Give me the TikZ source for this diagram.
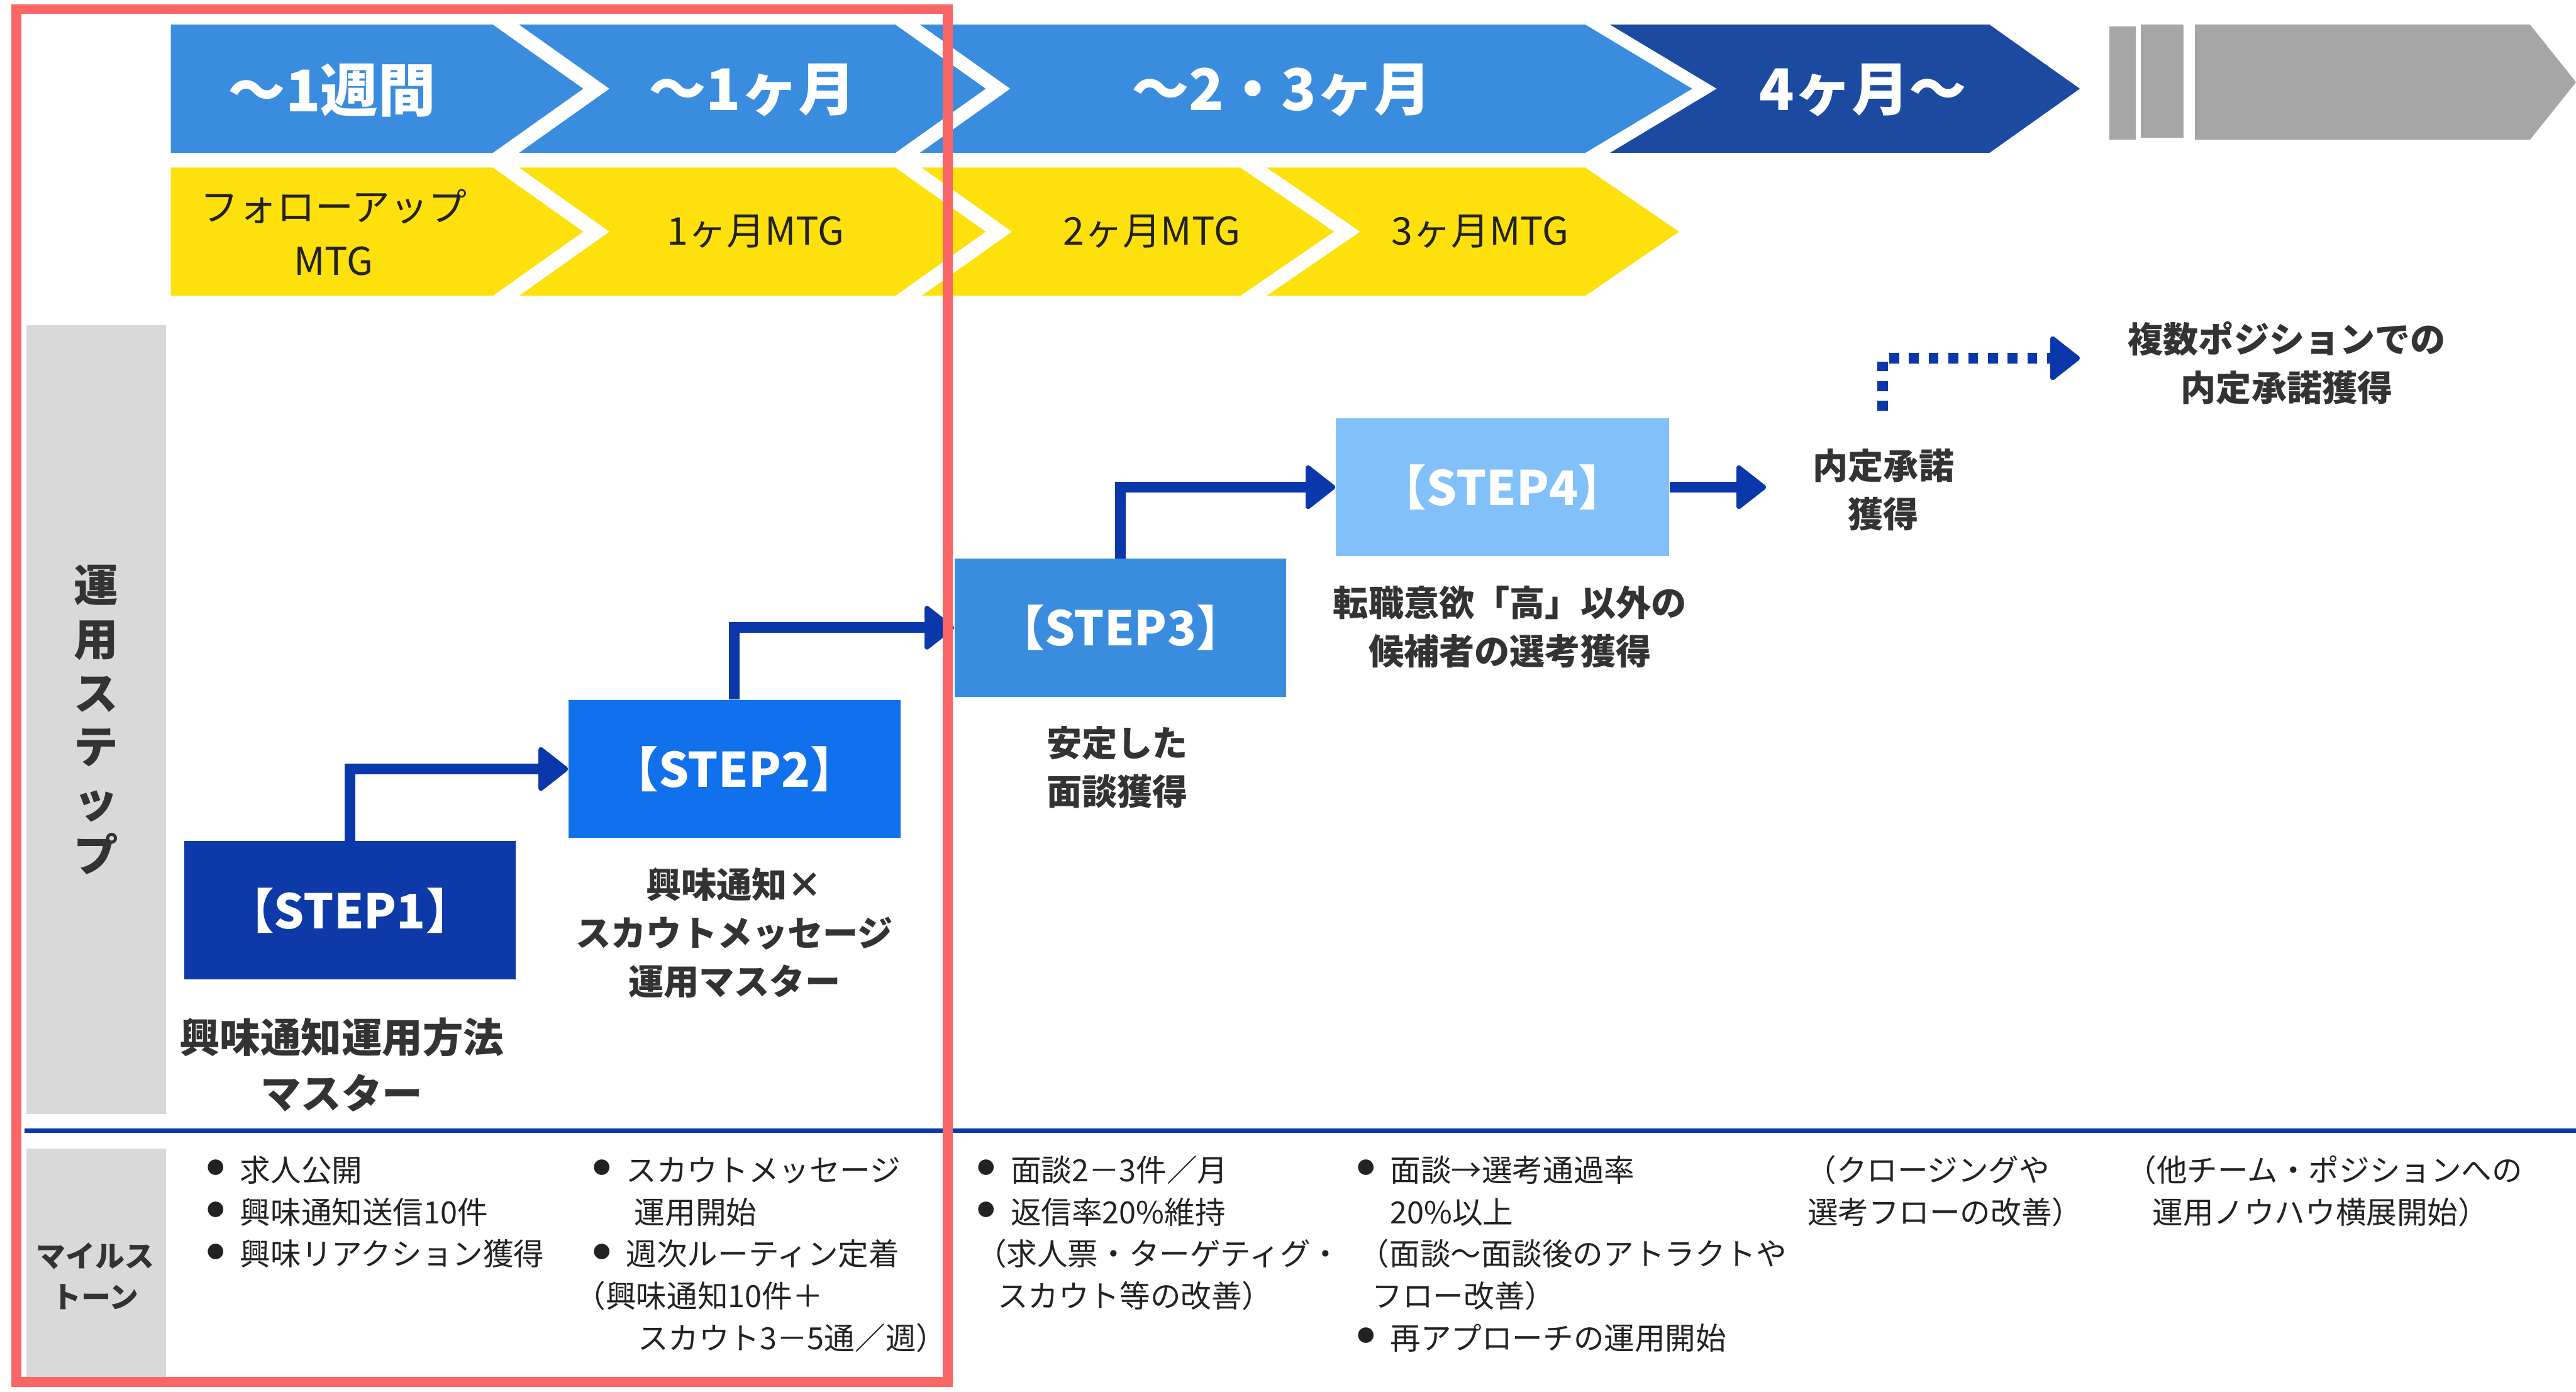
\documentclass[tikz,border=0pt]{standalone}
\usepackage{fontspec}
\setmainfont{Noto Sans CJK JP}
\usetikzlibrary{arrows.meta}
\definecolor{chev}{RGB}{58,141,222}
\definecolor{chevdark}{RGB}{27,74,160}
\definecolor{chevgray}{RGB}{166,166,166}
\definecolor{yel}{RGB}{254,224,12}
\definecolor{st1}{RGB}{13,58,168}
\definecolor{st2}{RGB}{17,112,235}
\definecolor{st3}{RGB}{58,141,222}
\definecolor{st4}{RGB}{130,192,250}
\definecolor{arr}{RGB}{10,55,170}
\definecolor{panel}{RGB}{217,217,217}
\definecolor{framecol}{RGB}{250,102,102}
\definecolor{txt}{RGB}{51,51,51}
\definecolor{mtxt}{RGB}{34,34,34}
\newcommand{\fsz}[2]{\fontsize{#1pt}{#2pt}\selectfont}
\newcommand{\bul}{\makebox[19pt][l]{\hspace{-1pt}\raisebox{4.5pt}{\fsz{10.5}{10.5}●}}}
\begin{document}
\begin{tikzpicture}[x=1pt,y=-1pt,
  chevtxt/.style={text=white,font=\bfseries\fsz{35}{40},inner sep=0},
  yeltxt/.style={text=mtxt,font=\fsz{23.3}{33},inner sep=0,align=center},
  stepbox/.style={inner sep=0,minimum width=202pt,minimum height=84pt,text=white,font=\bfseries\fsz{29}{32}},
  lbl/.style={text=txt,font=\bfseries\fsz{21.5}{29.5},align=center,inner sep=0},
  ms/.style={text=mtxt,font=\fsz{18.6}{25.6},anchor=base west,inner sep=0},
  conn/.style={draw=arr,line width=6.5pt,-{Triangle[length=19pt,width=29pt,line width=3pt,round]}},
  dotconn/.style={draw=arr,line width=6.5pt,dash pattern=on 6pt off 6pt,-{Triangle[length=19pt,width=29pt,line width=3pt,round]}}
]
\useasboundingbox (0,0) rectangle (1568,846.9);
\fill[white] (0,0) rectangle (1568,846.9);

% top blue chevrons
\fill[chev] (104,15) -- (300,15) -- (355,54) -- (300,93) -- (104,93) -- cycle;
\fill[chev] (316,15) -- (545,15) -- (600,54) -- (545,93) -- (316,93) -- (371,54) -- cycle;
\fill[chev] (560,15) -- (965,15) -- (1030,54) -- (965,93) -- (560,93) -- (615,54) -- cycle;
\fill[chevdark] (980,15) -- (1211,15) -- (1266,54) -- (1211,93) -- (980,93) -- (1045,54) -- cycle;
% gray continuation
\fill[chevgray] (1284,16) rectangle (1300,85);
\fill[chevgray] (1303,15) rectangle (1329,84);
\fill[chevgray] (1336,15) -- (1540,15) -- (1568,50) -- (1540,85) -- (1336,85) -- cycle;

% yellow chevrons
\fill[yel] (104,102) -- (300,102) -- (355,141) -- (300,180) -- (104,180) -- cycle;
\fill[yel] (316,102) -- (545,102) -- (600,141) -- (545,180) -- (316,180) -- (371,141) -- cycle;
\fill[yel] (561,102) -- (755,102) -- (812,141) -- (755,180) -- (561,180) -- (616,141) -- cycle;
\fill[yel] (771,102) -- (965,102) -- (1022,141) -- (965,180) -- (771,180) -- (828,141) -- cycle;

% side panels
\fill[panel] (16,198) rectangle (101,678);
\fill[panel] (16,699) rectangle (101,843);
\draw[draw=arr,line width=2.8pt] (15,688) -- (1568,688);

% chevron texts
\node[chevtxt] (t1) at (202,55) {～1週間};
\node[chevtxt] (t2) at (458,55) {～1ヶ月};
\node[chevtxt] (t3) at (780,55) {～2・3ヶ月};
\node[chevtxt] (t4) at (1134,55) {4ヶ月～};
\node[yeltxt] (y1) at (203,141.5) {フォローアップ\\MTG};
\node[yeltxt] (y2) at (460,141) {1ヶ月MTG};
\node[yeltxt] (y3) at (701,141) {2ヶ月MTG};
\node[yeltxt] (y4) at (901,141) {3ヶ月MTG};

% side labels
\node[text=txt,font=\bfseries\fsz{27}{32.8},align=center,inner sep=0] (vl) at (58.5,438) {運\\用\\ス\\テ\\ッ\\プ};
\node[text=txt,font=\bfseries\fsz{18}{25},align=center,inner sep=0] (ml) at (58,776.5) {マイルス\\トーン};

% steps
\node[stepbox,fill=st1] (s1) at (213,554) {【STEP1】};
\node[stepbox,fill=st2] (s2) at (447,468) {【STEP2】};
\node[stepbox,fill=st3] (s3) at (682,382) {【STEP3】};
\node[stepbox,fill=st4,minimum width=203pt] (s4) at (914.5,296.5) {【STEP4】};

% connectors
\draw[conn] (s1.north) |- (s2.west);
\draw[conn] (s2.north) |- (s3.west);
\draw[conn] (s3.north) |- (s4.west);
\coordinate (c5) at (1075,296.5);
\draw[conn] (s4.east) -- (c5);
\coordinate (d0) at (1146,250);
\coordinate (d1) at (1266,218);
\draw[dotconn] (d0) |- (d1);

% step labels
\node[lbl,font=\bfseries\fsz{24.7}{34}] (l1) at (208,648) {興味通知運用方法\\マスター};
\node[lbl] (l2) at (447,568) {興味通知×\\スカウトメッセージ\\運用マスター};
\node[lbl] (l3) at (680,467) {安定した\\面談獲得};
\node[lbl] (l4) at (919,381.5) {転職意欲「高」以外の\\候補者の選考獲得};
\node[lbl] (l5) at (1146.5,298) {内定承諾\\獲得};
\node[lbl] (l6) at (1392,221) {複数ポジションでの\\内定承諾獲得};

% milestones
\node[ms] (m1a) at (127,719) {\bul 求人公開};
\node[ms] (m1b) at (127,744.6) {\bul 興味通知送信10件};
\node[ms] (m1c) at (127,770.2) {\bul 興味リアクション獲得};
\node[ms] (m2a) at (362,719) {\bul スカウトメッセージ};
\node[ms] (m2b) at (386,744.6) {運用開始};
\node[ms] (m2c) at (362,770.2) {\bul 週次ルーティン定着};
\node[ms] (m2d) at (350,795.8) {（興味通知10件＋};
\node[ms] (m2e) at (388,821.4) {スカウト3－5通／週）};
\node[ms] (m3a) at (596,719) {\bul 面談2－3件／月};
\node[ms] (m3b) at (596,744.6) {\bul 返信率20\%維持};
\node[ms] (m3c) at (594,770.2) {（求人票・ターゲティグ・};
\node[ms] (m3d) at (607,795.8) {スカウト等の改善）};
\node[ms] (m4a) at (827,719) {\bul 面談→選考通過率};
\node[ms] (m4b) at (846,744.6) {20\%以上};
\node[ms] (m4c) at (827,770.2) {（面談～面談後のアトラクトや};
\node[ms] (m4d) at (835,795.8) {フロー改善）};
\node[ms] (m4e) at (827,821.4) {\bul 再アプローチの運用開始};
\node[ms] (m5a) at (1099,719) {（クロージングや};
\node[ms] (m5b) at (1100,744.6) {選考フローの改善）};
\node[ms] (m6a) at (1294,719) {（他チーム・ポジションへの};
\node[ms] (m6b) at (1310,744.6) {運用ノウハウ横展開始）};

% red frame
\draw[framecol,line width=6pt] (10,5.5) rectangle (577,841);
\end{tikzpicture}
\end{document}
